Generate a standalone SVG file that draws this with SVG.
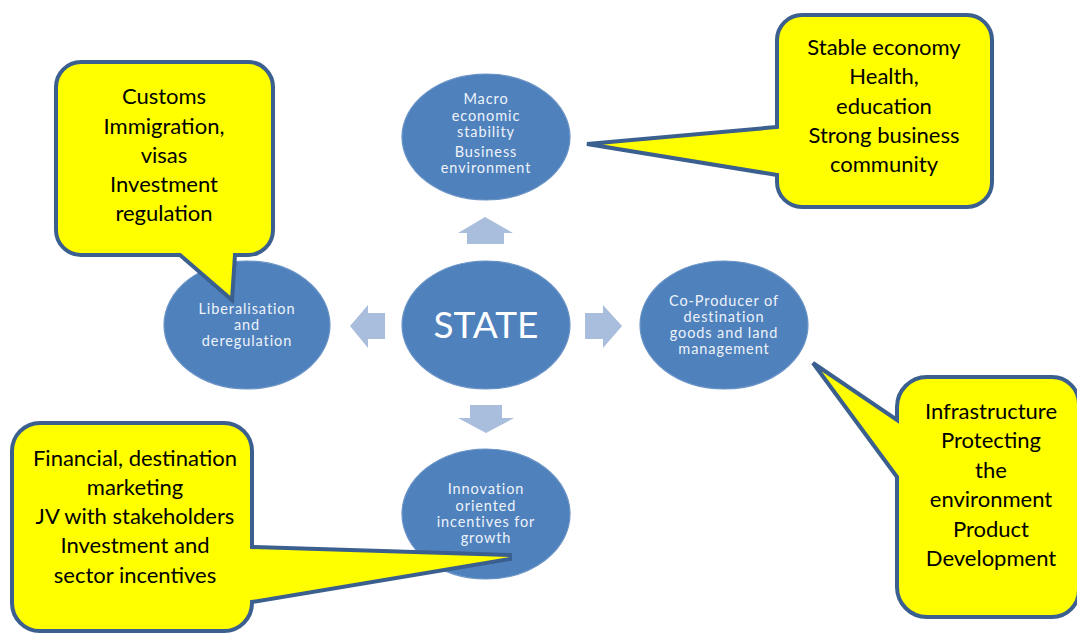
<svg xmlns="http://www.w3.org/2000/svg" width="1077" height="633" viewBox="0 0 1077 633">
  <style>
    .oval { fill: #4f81bd; stroke: #6a93c6; stroke-width: 1.2; }
    .oval-text { font-family: Lato, "Open Sans", sans-serif; font-size: 14.5px; letter-spacing: 0.9px; fill: #eef3fa; text-anchor: middle; }
    .state-text { font-family: Lato, "Open Sans", sans-serif; font-size: 37px; fill: #ffffff; text-anchor: middle; }
    .flow { fill: #a9bddc; }
    .callout { fill: #ffff00; stroke: #3b5f8e; stroke-width: 4; stroke-linejoin: miter; }
    .callout-text { font-family: Lato, "Open Sans", sans-serif; font-size: 22px; fill: #000000; text-anchor: middle; }
  </style>
  <rect width="1077" height="633" fill="#ffffff"/>

  <!-- block arrows radiating from the centre -->
  <g id="connectors">
    <polygon class="flow" points="485,217 513,233 504,233 504,244 467,244 467,233 458,233"/>
    <polygon class="flow" points="470,405 502,405 502,418 514,418 486,433 458,418 470,418"/>
    <polygon class="flow" points="350,326 368,305 368,313 385,313 385,339 368,339 368,348"/>
    <polygon class="flow" points="585,313 603,313 603,305 622,326 603,348 603,339 585,339"/>
  </g>

  <g id="macro">
    <ellipse class="oval" cx="486" cy="137" rx="84" ry="63"/>
    <text class="oval-text" x="486" y="104">Macro</text>
    <text class="oval-text" x="486" y="121">economic</text>
    <text class="oval-text" x="486" y="137">stability</text>
    <text class="oval-text" x="486" y="157">Business</text>
    <text class="oval-text" x="486" y="173">environment</text>
  </g>

  <g id="state">
    <ellipse class="oval" cx="486" cy="325" rx="84" ry="64"/>
    <text class="state-text" x="486" y="338">STATE</text>
  </g>

  <g id="liberalisation">
    <ellipse class="oval" cx="247" cy="325" rx="83" ry="64"/>
    <text class="oval-text" x="247" y="314">Liberalisation</text>
    <text class="oval-text" x="247" y="330">and</text>
    <text class="oval-text" x="247" y="346">deregulation</text>
  </g>

  <g id="coproducer">
    <ellipse class="oval" cx="724" cy="325" rx="84" ry="64"/>
    <text class="oval-text" x="724" y="306">Co-Producer of</text>
    <text class="oval-text" x="724" y="322">destination</text>
    <text class="oval-text" x="724" y="338">goods and land</text>
    <text class="oval-text" x="724" y="354">management</text>
  </g>

  <g id="innovation">
    <ellipse class="oval" cx="486" cy="514" rx="84" ry="65"/>
    <text class="oval-text" x="486" y="494">Innovation</text>
    <text class="oval-text" x="486" y="511">oriented</text>
    <text class="oval-text" x="486" y="527">incentives for</text>
    <text class="oval-text" x="486" y="543">growth</text>
  </g>

  <!-- speech-bubble callouts -->
  <g id="callout-customs">
    <path class="callout" d="M81,62 H248 A25,25 0 0 1 273,87 V230 A25,25 0 0 1 248,255 H235 L232,300 L180,255 H81 A25,25 0 0 1 56,230 V87 A25,25 0 0 1 81,62 Z"/>
    <text class="callout-text" x="164" y="104">Customs</text>
    <text class="callout-text" x="164" y="134">Immigration,</text>
    <text class="callout-text" x="164" y="163">visas</text>
    <text class="callout-text" x="164" y="192">Investment</text>
    <text class="callout-text" x="164" y="221">regulation</text>
  </g>

  <g id="callout-economy">
    <path class="callout" d="M802,15 H967 A25,25 0 0 1 992,40 V182 A25,25 0 0 1 967,207 H802 A25,25 0 0 1 777,182 V175 L587,144 L777,127 V40 A25,25 0 0 1 802,15 Z"/>
    <text class="callout-text" x="884" y="55">Stable economy</text>
    <text class="callout-text" x="884" y="84">Health,</text>
    <text class="callout-text" x="884" y="114">education</text>
    <text class="callout-text" x="884" y="143">Strong business</text>
    <text class="callout-text" x="884" y="172">community</text>
  </g>

  <g id="callout-infrastructure">
    <path class="callout" d="M927,377 H1052 A27,27 0 0 1 1079,404 V590 A27,27 0 0 1 1052,617 H927 A30,30 0 0 1 897,587 V477 L813,363 L897,420 V407 A30,30 0 0 1 927,377 Z"/>
    <text class="callout-text" x="991" y="419">Infrastructure</text>
    <text class="callout-text" x="991" y="448">Protecting</text>
    <text class="callout-text" x="991" y="478">the</text>
    <text class="callout-text" x="991" y="507">environment</text>
    <text class="callout-text" x="991" y="537">Product</text>
    <text class="callout-text" x="991" y="566">Development</text>
  </g>

  <g id="callout-financial">
    <path class="callout" d="M40,423 H224 A28,28 0 0 1 252,451 V547 L510,555 L510,559 L252,602 V603 A28,28 0 0 1 224,631 H40 A28,28 0 0 1 12,603 V451 A28,28 0 0 1 40,423 Z"/>
    <text class="callout-text" x="135" y="466">Financial, destination</text>
    <text class="callout-text" x="135" y="495">marketing</text>
    <text class="callout-text" x="135" y="524">JV with stakeholders</text>
    <text class="callout-text" x="135" y="553">Investment and</text>
    <text class="callout-text" x="135" y="583">sector incentives</text>
  </g>
</svg>
